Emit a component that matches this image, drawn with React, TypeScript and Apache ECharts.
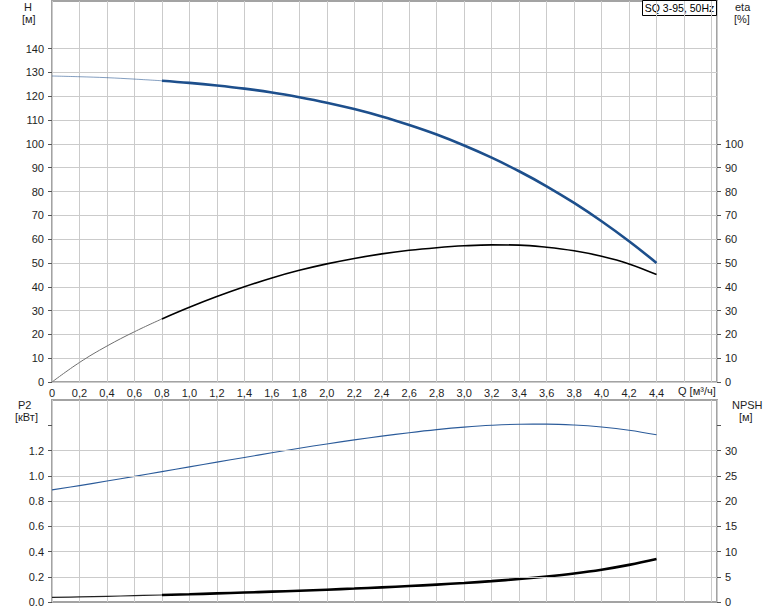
import React, { useEffect, useRef } from "react";
import * as echarts from "echarts";

const Q = [0, 0.2, 0.4, 0.6, 0.8, 1.0, 1.2, 1.4, 1.6, 1.8, 2.0, 2.2, 2.4, 2.6, 2.8, 3.0, 3.2, 3.4, 3.6, 3.8, 4.0, 4.2, 4.4];
const H = [128.5, 128.2, 127.8, 127.2, 126.5, 125.6, 124.5, 123.2, 121.6, 119.6, 117.3, 114.6, 111.5, 107.9, 103.9, 99.3, 94.2, 88.5, 82.2, 75.2, 67.5, 59.1, 50.0];
const ETA = [0, 8.2, 15.1, 21.1, 26.5, 31.4, 35.9, 40.0, 43.7, 46.9, 49.6, 51.9, 53.8, 55.3, 56.4, 57.2, 57.6, 57.5, 56.6, 55.1, 52.8, 49.6, 45.1];
const P2 = [0.888, 0.922, 0.958, 0.995, 1.033, 1.07, 1.108, 1.145, 1.182, 1.218, 1.252, 1.284, 1.314, 1.341, 1.365, 1.385, 1.4, 1.408, 1.409, 1.402, 1.386, 1.361, 1.325];
const NPSH = [0.9, 1.0, 1.12, 1.25, 1.39, 1.54, 1.7, 1.87, 2.05, 2.24, 2.44, 2.66, 2.9, 3.16, 3.45, 3.77, 4.13, 4.55, 5.05, 5.65, 6.4, 7.35, 8.5];
const SPLIT_Q = 0.8;
const H_TICKS = [0, 10, 20, 30, 40, 50, 60, 70, 80, 90, 100, 110, 120, 130, 140];
const ETA_TICKS = [0, 10, 20, 30, 40, 50, 60, 70, 80, 90, 100];
const P2_TICKS = [0, 0.2, 0.4, 0.6, 0.8, 1.0, 1.2, 1.4];
const P2_GRID = [0.2, 0.4, 0.6, 0.8, 1.0, 1.2];
const NPSH_TICKS = [0, 5, 10, 15, 20, 25, 30, 35];
const TITLE = "SQ 3-95, 50Hz";

const pairs = (ys: number[], lo: number, hi: number) =>
  Q.map((q, i) => [q, ys[i]]).filter((p) => p[0] >= lo - 1e-9 && p[0] <= hi + 1e-9);

const TXT = "#1e1e1e";
const FONT = "Liberation Sans, Arial, sans-serif";

export default function App() {
  const ref = useRef<HTMLDivElement>(null);
  useEffect(() => {
    if (!ref.current) return;
    const chart = echarts.init(ref.current, null, { renderer: "svg" });
    const L = 52, R = 57;
    const xAxisBase = (gridIndex: number, showLabels: boolean) => ({
      type: "value",
      gridIndex,
      min: 0,
      max: 4.84,
      interval: 0.2,
      axisLine: { show: false },
      axisTick: { show: false },
      axisLabel: {
        show: showLabels,
        margin: 5,
        color: TXT,
        fontSize: 11,
        fontFamily: FONT,
        formatter: (v: number) => (v > 4.41 ? "" : v === 0 ? "0" : v.toFixed(1).replace(".", ",")),
      },
      splitLine: { show: true, lineStyle: { color: "#cbcbcb", width: 1 } },
    });
    const yAxisBase = (gridIndex: number, position: string, max: number, interval: number, ticks: number[], maxLabel: number, fmt: (v: number) => string, split: boolean) => ({
      type: "value",
      gridIndex,
      position,
      min: 0,
      max,
      interval,
      axisLine: { show: false },
      axisTick: { show: true, length: 4, lineStyle: { color: "#555" }, customValues: ticks },
      axisLabel: {
        margin: 8,
        color: TXT,
        fontSize: 11,
        fontFamily: FONT,
        formatter: (v: number) => (v > maxLabel + 1e-9 ? "" : fmt(v)),
      },
      splitLine: { show: split, lineStyle: { color: "#cbcbcb", width: 1 } },
    });
    const blue = "#1d4f8c";
    const sm = 0.4;
    chart.setOption({
      animation: false,
      grid: [
        { left: L, right: R, top: 1, height: 381, show: true, borderColor: "#a3a3a3", borderWidth: 2, backgroundColor: "#fff" },
        { left: L, right: R, top: 400, height: 202, show: true, borderColor: "#a3a3a3", borderWidth: 2, backgroundColor: "#fff" },
      ],
      xAxis: [xAxisBase(0, true), xAxisBase(1, false)],
      yAxis: [
        yAxisBase(0, "left", 160, 10, H_TICKS, 140, (v) => String(Math.round(v)), true),
        yAxisBase(0, "right", 160, 10, ETA_TICKS, 100, (v) => String(Math.round(v)), false),
        yAxisBase(1, "left", 1.6, 0.2, P2_TICKS, 1.2, (v) => v.toFixed(1), false),
        yAxisBase(1, "right", 40, 5, NPSH_TICKS, 30, (v) => String(Math.round(v)), false),
      ],
      series: [
        {
          type: "line", xAxisIndex: 1, yAxisIndex: 2, data: [], silent: true, z: 1,
          markLine: {
            silent: true, symbol: ["none", "none"], label: { show: false },
            lineStyle: { color: "#cbcbcb", width: 1, type: "solid" },
            data: P2_GRID.map((v) => ({ yAxis: v })),
          },
        },
        { type: "line", xAxisIndex: 0, yAxisIndex: 0, data: pairs(H, 0, SPLIT_Q), smooth: sm, showSymbol: false, lineStyle: { color: blue, width: 1, opacity: 0.55 }, z: 3 },
        { type: "line", xAxisIndex: 0, yAxisIndex: 0, data: pairs(H, SPLIT_Q, 4.4), smooth: sm, showSymbol: false, lineStyle: { color: blue, width: 2.6 }, z: 3 },
        { type: "line", xAxisIndex: 0, yAxisIndex: 1, data: pairs(ETA, 0, SPLIT_Q), smooth: sm, showSymbol: false, lineStyle: { color: "#6e6e6e", width: 1 }, z: 3 },
        { type: "line", xAxisIndex: 0, yAxisIndex: 1, data: pairs(ETA, SPLIT_Q, 4.4), smooth: sm, showSymbol: false, lineStyle: { color: "#000", width: 1.6 }, z: 3 },
        { type: "line", xAxisIndex: 1, yAxisIndex: 2, data: pairs(P2, 0, 4.4), smooth: sm, showSymbol: false, lineStyle: { color: "#2b5b9a", width: 1.1 }, z: 3 },
        { type: "line", xAxisIndex: 1, yAxisIndex: 3, data: pairs(NPSH, 0, SPLIT_Q), smooth: sm, showSymbol: false, lineStyle: { color: "#222", width: 1.2 }, z: 3 },
        { type: "line", xAxisIndex: 1, yAxisIndex: 3, data: pairs(NPSH, SPLIT_Q, 4.4), smooth: sm, showSymbol: false, lineStyle: { color: "#000", width: 2.6 }, z: 3 },
      ],
      graphic: [
        { type: "text", left: 24, top: 1, style: { text: "H", fill: TXT, font: `11px ${FONT}` } },
        { type: "text", left: 22, top: 13, style: { text: "[м]", fill: TXT, font: `11px ${FONT}` } },
        { type: "text", left: 735, top: 1, style: { text: "eta", fill: TXT, font: `11px ${FONT}` } },
        { type: "text", left: 734, top: 13, style: { text: "[%]", fill: TXT, font: `11px ${FONT}` } },
        { type: "text", left: 18, top: 399, style: { text: "P2", fill: TXT, font: `11px ${FONT}` } },
        { type: "text", left: 15, top: 411, style: { text: "[кВт]", fill: TXT, font: `11px ${FONT}` } },
        { type: "text", left: 732, top: 399, style: { text: "NPSH", fill: TXT, font: `11px ${FONT}` } },
        { type: "text", left: 739, top: 411, style: { text: "[м]", fill: TXT, font: `11px ${FONT}` } },
        { type: "text", left: 678, top: 385, style: { text: "Q [м³/ч]", fill: TXT, font: `11px ${FONT}` } },
        {
          type: "group", left: 642, top: 0, z: 20,
          children: [
            { type: "rect", shape: { x: 0, y: 0, width: 74, height: 15 }, style: { fill: "#fff", stroke: "#000", lineWidth: 1 } },
            { type: "text", x: 37, y: 2, style: { text: TITLE, fill: "#000", font: `10.5px ${FONT}`, textAlign: "center" } },
          ],
        },
      ],
    });
    return () => chart.dispose();
  }, []);
  return <div ref={ref} style={{ position: "fixed", left: 0, top: 0, width: 774, height: 611, background: "#fff" }} />;
}
